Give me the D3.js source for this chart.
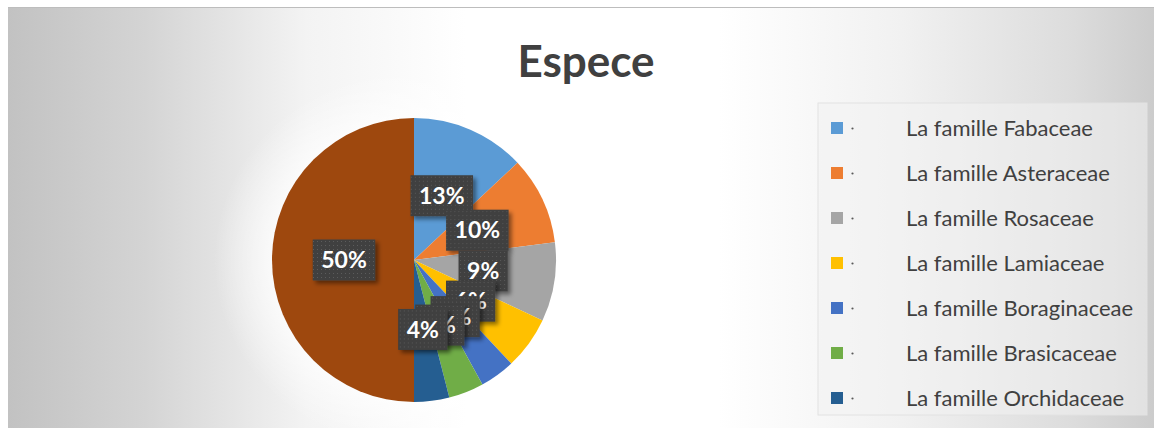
<!DOCTYPE html>
<html>
<head>
<meta charset="utf-8">
<script src="https://cdn.jsdelivr.net/npm/d3@7"></script>
<style>
  html, body { margin: 0; padding: 0; background: #ffffff; }
  svg { display: block; }
</style>
</head>
<body>
<svg id="chart" width="1154" height="428"></svg>
<script>
// Species share per plant family (percent)
const families = [
  "La famille Fabaceae",
  "La famille Asteraceae",
  "La famille Rosaceae",
  "La famille Lamiaceae",
  "La famille Boraginaceae",
  "La famille Brasicaceae",
  "La famille Orchidaceae",
  "Autres familles"
];
const shares = [13, 10, 9, 6, 4, 4, 4, 50];
const colors = ["#5B9BD5", "#ED7D31", "#A5A5A5", "#FFC000", "#4472C4", "#70AD47", "#255E91", "#9E480E"];
const title = "Espece";

const W = 1154, H = 428;
const FONT = "Lato, 'Open Sans', sans-serif";
const svg = d3.select("#chart");
const defs = svg.append("defs");

// chart-area background: grey edges fading to white in the middle
const bg = defs.append("linearGradient").attr("id", "bgGrad").attr("x1", 0).attr("x2", 1).attr("y1", 0).attr("y2", 0);
[[0, "#c2c2c2"], [0.12, "#d4d4d4"], [0.26, "#f3f3f3"], [0.4, "#ffffff"], [0.62, "#ffffff"], [0.78, "#f1f1f1"], [0.93, "#dcdcdc"], [1, "#cccccc"]]
  .forEach(([o, c]) => bg.append("stop").attr("offset", o).attr("stop-color", c));

const glow = defs.append("radialGradient").attr("id", "glow");
glow.append("stop").attr("offset", 0.6).attr("stop-color", "#ffffff").attr("stop-opacity", 1);
glow.append("stop").attr("offset", 1).attr("stop-color", "#ffffff").attr("stop-opacity", 0);

// dotted texture for the data-label boxes
const pat = defs.append("pattern").attr("id", "dots").attr("patternUnits", "userSpaceOnUse")
  .attr("width", 4).attr("height", 4);
pat.append("rect").attr("width", 4).attr("height", 4).attr("fill", "#3f3f3f");
pat.append("rect").attr("x", 1).attr("y", 1).attr("width", 1).attr("height", 1).attr("fill", "#5c5c5c");

const shadow = defs.append("filter").attr("id", "shadow").attr("x", "-20%").attr("y", "-20%").attr("width", "150%").attr("height", "150%");
shadow.append("feDropShadow").attr("dx", 3).attr("dy", 3).attr("stdDeviation", 2)
  .attr("flood-color", "#000").attr("flood-opacity", 0.45);

// chart area
svg.append("rect").attr("x", 8).attr("y", 7).attr("width", W - 8).attr("height", H - 7).attr("fill", "url(#bgGrad)");
svg.append("line").attr("x1", 8).attr("x2", W).attr("y1", 7.5).attr("y2", 7.5).attr("stroke", "#bdbdbd").attr("stroke-width", 1);
svg.append("ellipse").attr("cx", 414).attr("cy", 260).attr("rx", 200).attr("ry", 190).attr("fill", "url(#glow)");

// title
svg.append("text")
  .attr("x", 586).attr("y", 77)
  .attr("text-anchor", "middle")
  .attr("font-family", FONT)
  .attr("font-weight", 700)
  .attr("font-size", 44)
  .attr("fill", "#404040")
  .text(title);

// pie
const cx = 414, cy = 260, R = 142, labelR = 70;
const pie = d3.pie().sort(null).value(d => d.v);
const data = families.map((f, i) => ({ name: f, v: shares[i], color: colors[i] }));
const arcs = pie(data);
const arc = d3.arc().innerRadius(0).outerRadius(R);
const labelArc = d3.arc().innerRadius(labelR).outerRadius(labelR);

const g = svg.append("g").attr("transform", `translate(${cx},${cy})`);
g.selectAll("path.slice").data(arcs).join("path")
  .attr("class", "slice")
  .attr("d", arc)
  .attr("fill", d => d.data.color);

// data labels
const fmt = d3.format(".0%");
const labels = g.selectAll("g.lbl").data(arcs).join("g")
  .attr("class", "lbl")
  .attr("transform", d => `translate(${labelArc.centroid(d)})`);
labels.each(function (d) {
  const sel = d3.select(this);
  const t = sel.append("text")
    .attr("text-anchor", "middle")
    .attr("dy", "0.36em")
    .attr("font-family", FONT)
    .attr("font-weight", 700)
    .attr("font-size", 23)
    .attr("fill", "#ffffff")
    .text(fmt(d.data.v / 100));
  const w = t.node().getComputedTextLength() + 17;
  const h = 41;
  sel.insert("rect", "text")
    .attr("x", -w / 2).attr("y", -h / 2)
    .attr("width", w).attr("height", h)
    .attr("fill", "url(#dots)")
    .attr("filter", "url(#shadow)");
});

// legend: only the rows that fit inside its box are shown
const lg = { x: 818, y: 103, w: 329, h: 312 };
svg.append("rect").attr("x", lg.x).attr("y", lg.y).attr("width", lg.w).attr("height", lg.h)
  .attr("fill", "#f3f3f3").attr("fill-opacity", 0.55)
  .attr("stroke", "#e2e2e2").attr("stroke-width", 1);

const rowY = d3.scalePoint().domain(families).range([128, 128 + 45 * (families.length - 1)]);
const shown = data.filter(d => rowY(d.name) + 10 < lg.y + lg.h);
const items = svg.append("g").selectAll("g.item").data(shown).join("g")
  .attr("class", "item")
  .attr("transform", d => `translate(0,${rowY(d.name)})`);
items.append("rect").attr("x", 831).attr("y", -6).attr("width", 12).attr("height", 12).attr("fill", d => d.color);
items.append("circle").attr("cx", 852.5).attr("cy", 0.5).attr("r", 1.1).attr("fill", "#595959");
items.append("text")
  .attr("x", 906).attr("y", 0).attr("dy", "0.35em")
  .attr("font-family", FONT)
  .attr("font-size", 22)
  .attr("fill", "#404040")
  .text(d => d.name);
</script>
</body>
</html>
